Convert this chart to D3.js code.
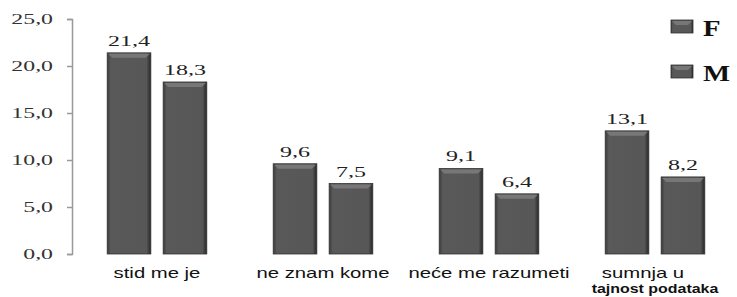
<!DOCTYPE html>
<html>
<head>
<meta charset="utf-8">
<script src="https://cdn.jsdelivr.net/npm/d3@7"></script>
<style>
  body { margin: 0; background: #fff; }
  svg { display: block; }
</style>
</head>
<body>
<script>
const categories = ["stid me je", "ne znam kome", "neće me razumeti", "sumnja u|tajnost podataka"];
const seriesNames = ["F", "M"];
const valuesF = [21.4, 9.6, 9.1, 13.1];
const valuesM = [18.3, 7.5, 6.4, 8.2];
const yTicks = [0, 5, 10, 15, 20, 25];

const width = 737, height = 297;
const fmt = v => d3.format(".1f")(v).replace(".", ",");

const svg = d3.select("body").append("svg")
  .attr("width", width)
  .attr("height", height);

const defs = svg.append("defs");
const grad = defs.append("linearGradient").attr("id", "barGrad")
  .attr("x1", 0).attr("x2", 1).attr("y1", 0).attr("y2", 0);
grad.append("stop").attr("offset", "0%").attr("stop-color", "#3a3a3a");
grad.append("stop").attr("offset", "8%").attr("stop-color", "#595959");
grad.append("stop").attr("offset", "90%").attr("stop-color", "#575757");
grad.append("stop").attr("offset", "100%").attr("stop-color", "#262626");

const y = d3.scaleLinear().domain([0, 25]).range([254, 19]);
const x0 = d3.scaleBand().domain(categories).range([74, 738])
  .paddingInner(0.4).paddingOuter(0.2);
const x1 = d3.scaleBand().domain(seriesNames).range([0, x0.bandwidth()])
  .paddingInner(0.22);

// y axis
const yAxis = svg.append("g")
  .attr("transform", "translate(72,0)")
  .call(d3.axisLeft(y).tickValues(yTicks).tickSize(5).tickFormat(""));
yAxis.select(".domain").attr("stroke", "#999").attr("stroke-width", 1.5);
yAxis.selectAll(".tick line").attr("stroke", "#999").attr("stroke-width", 1.5);

svg.append("g").selectAll("text")
  .data(yTicks)
  .join("text")
  .attr("transform", d => `translate(53,${y(d) + 5}) scale(1.7,1)`)
  .attr("text-anchor", "end")
  .attr("font-family", "Liberation Serif, serif")
  .attr("font-size", 14)
  .attr("fill", "#333")
  .text(fmt);

// bars
const rows = categories.map((c, i) => ({ cat: c, vals: [
  { s: "F", v: valuesF[i] }, { s: "M", v: valuesM[i] }
]}));

const groups = svg.append("g").selectAll("g")
  .data(rows)
  .join("g")
  .attr("transform", d => `translate(${x0(d.cat)},0)`);

const bar = groups.selectAll("g")
  .data(d => d.vals)
  .join("g");

bar.append("rect")
  .attr("x", d => x1(d.s))
  .attr("y", d => y(d.v))
  .attr("width", x1.bandwidth())
  .attr("height", d => y(0) - y(d.v))
  .attr("fill", "url(#barGrad)")
  .attr("stroke", "#333")
  .attr("stroke-width", 0.8);

// bevel highlight on top
bar.append("path")
  .attr("d", d => {
    const x = x1(d.s), w = x1.bandwidth(), t = y(d.v);
    return `M${x + 1},${t + 1}H${x + w - 1}L${x + w - 5},${t + 5}H${x + 5}Z`;
  })
  .attr("fill", "#777");

bar.append("text")
  .attr("transform", d => `translate(${x1(d.s) + x1.bandwidth() / 2},${y(d.v) - 7}) scale(1.6,1)`)
  .attr("text-anchor", "middle")
  .attr("font-family", "Liberation Serif, serif")
  .attr("font-size", 15)
  .attr("fill", "#222")
  .text(d => fmt(d.v));

// category labels
const lab = svg.append("g").selectAll("g")
  .data(categories)
  .join("g")
  .attr("transform", d => `translate(${x0(d) + x0.bandwidth() / 2},0)`);

lab.append("text")
  .attr("transform", d => `translate(${d.includes("|") ? -12 : 0},278) scale(1.45,1)`)
  .attr("text-anchor", "middle")
  .attr("font-family", "Liberation Sans, Arial, sans-serif")
  .attr("font-size", 14)
  .attr("fill", "#111")
  .text(d => d.split("|")[0]);

lab.filter(d => d.includes("|")).append("text")
  .attr("transform", "translate(0,293) scale(1.33,1)")
  .attr("text-anchor", "middle")
  .attr("font-family", "Liberation Sans, Arial, sans-serif")
  .attr("font-size", 12)
  .attr("font-weight", "bold")
  .attr("fill", "#111")
  .text(d => d.split("|")[1]);

// legend
const legend = svg.append("g").selectAll("g")
  .data(seriesNames)
  .join("g")
  .attr("transform", (d, i) => `translate(671,${20 + i * 45})`);

legend.append("rect")
  .attr("width", 22).attr("height", 13)
  .attr("fill", "url(#barGrad)")
  .attr("stroke", "#333").attr("stroke-width", 0.8);
legend.append("path")
  .attr("d", "M1,1H21L17,5H5Z")
  .attr("fill", "#777");

legend.append("text")
  .attr("transform", "translate(32,16) scale(1.25,1)")
  .attr("font-family", "Liberation Serif, serif")
  .attr("font-size", 23)
  .attr("font-weight", "bold")
  .attr("fill", "#111")
  .text(d => d);
</script>
</body>
</html>
